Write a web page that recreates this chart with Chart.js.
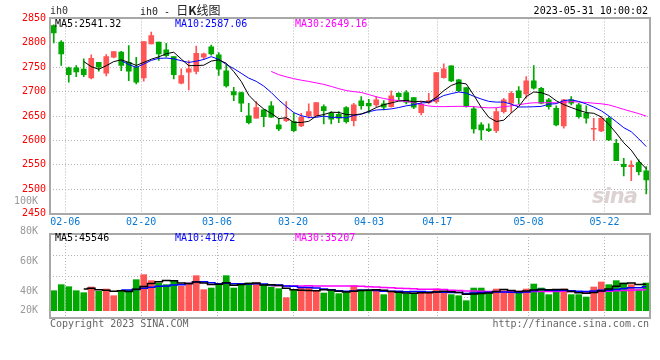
<!DOCTYPE html>
<html lang="zh">
<head>
<meta charset="UTF-8">
<title>ih0 - 日K线图</title>
<script src="https://cdn.jsdelivr.net/npm/chart.js@4.4.1/dist/chart.umd.min.js"></script>
<style>
  html, body { margin: 0; padding: 0; background: #fff; }
  #wrap { position: relative; width: 660px; height: 360px; overflow: hidden;
          font-family: "DejaVu Sans Mono", "Liberation Mono", monospace; font-size: 10px; }
  canvas { position: absolute; left: 0; }
  #main { top: 0; }
  #vol { top: 190px; }
  .txt { position: absolute; white-space: pre; line-height: 12px; }
  .frame { position: absolute; border: 2px solid #a8a8a8; box-sizing: border-box; pointer-events: none; }
  .cjk { font-family: "Noto Sans CJK SC", sans-serif; font-size: 12px; }
  #logo { position: absolute; left: 592px; top: 184px; font: italic bold 21px "DejaVu Sans", sans-serif;
          color: #ddd2d2; letter-spacing: -1px; }
</style>
</head>
<body>
<div id="wrap">
  <canvas id="main" width="660" height="230"></canvas>
  <div id="logo">sina</div>
  <canvas id="vol" width="660" height="170"></canvas>

  <div class="frame" style="left:49px; top:17px; width:602px; height:198px;"></div>
  <div class="frame" style="left:49px; top:233px; width:602px; height:86px;"></div>

  <div class="txt" style="left:50px; top:5px; color:#333;">ih0</div>
  <div class="txt" style="left:140px; top:4px; color:#222;">ih0 - <span class="cjk">日<b>K</b>线图</span></div>
  <div class="txt" style="right:12px; top:5px; color:#000;">2023-05-31 10:00:02</div>

  <div class="txt" style="left:55px; top:18px; color:#000;">MA5:2541.32</div>
  <div class="txt" style="left:175px; top:18px; color:#0000ff;">MA10:2587.06</div>
  <div class="txt" style="left:295px; top:18px; color:#ff00ff;">MA30:2649.16</div>

  <div class="txt" style="left:55px; top:232px; color:#000;">MA5:45546</div>
  <div class="txt" style="left:175px; top:232px; color:#0000ff;">MA10:41072</div>
  <div class="txt" style="left:295px; top:232px; color:#ff00ff;">MA30:35207</div>

  <div class="txt" style="left:50px; top:318px; color:#666;">Copyright 2023 SINA.COM</div>
  <div class="txt" style="right:11px; top:318px; color:#666;">http://finance.sina.com.cn</div>
</div>

<script>
// trading days shown, one candle each
const dates = ['02-03','02-06','02-07','02-08','02-09','02-10','02-13','02-14','02-15','02-16',
  '02-17','02-20','02-21','02-22','02-23','02-24','02-27','02-28','03-01','03-02',
  '03-03','03-06','03-07','03-08','03-09','03-10','03-13','03-14','03-15','03-16',
  '03-17','03-20','03-21','03-22','03-23','03-24','03-27','03-28','03-29','03-30',
  '03-31','04-03','04-04','04-06','04-07','04-10','04-11','04-12','04-13','04-14',
  '04-17','04-18','04-19','04-20','04-21','04-24','04-25','04-26','04-27','04-28',
  '05-04','05-05','05-08','05-09','05-10','05-11','05-12','05-15','05-16','05-17',
  '05-18','05-19','05-22','05-23','05-24','05-25','05-26','05-29','05-30','05-31'];

const open = [2835.6, 2801.4, 2748.7, 2748.7, 2746.0, 2728.2, 2760.3, 2737.8, 2770.6, 2780.9,
  2760.3, 2750.1, 2728.2, 2797.9, 2801.4, 2785.6, 2772.0, 2717.3, 2739.8, 2741.2,
  2770.5, 2792.0, 2775.3, 2742.5, 2700.1, 2698.0, 2650.2, 2645.4, 2662.5, 2670.7,
  2631.7, 2640.6, 2638.5, 2629.7, 2650.2, 2650.2, 2669.3, 2655.6, 2653.6, 2667.3,
  2640.6, 2680.9, 2676.2, 2672.7, 2674.8, 2669.3, 2696.7, 2698.0, 2687.8, 2657.0,
  2677.5, 2679.6, 2728.8, 2752.7, 2724.0, 2708.3, 2664.5, 2631.7, 2623.5, 2620.1,
  2659.1, 2676.2, 2701.5, 2695.3, 2722.0, 2706.9, 2683.0, 2665.9, 2629.7, 2683.0,
  2672.7, 2655.6, 2622.8, 2619.4, 2645.4, 2594.1, 2551.0, 2546.2, 2554.4, 2537.4];

const high = [2837.0, 2804.8, 2750.1, 2753.5, 2767.2, 2775.4, 2760.3, 2776.1, 2782.2, 2782.9,
  2794.5, 2770.6, 2802.7, 2821.9, 2801.4, 2799.3, 2772.0, 2746.7, 2763.8, 2793.2,
  2779.0, 2795.6, 2780.1, 2755.0, 2709.0, 2699.0, 2676.2, 2679.6, 2663.0, 2679.6,
  2645.4, 2679.6, 2655.6, 2655.6, 2674.8, 2677.5, 2672.7, 2659.1, 2659.1, 2669.3,
  2676.2, 2689.8, 2684.4, 2689.8, 2681.6, 2701.5, 2698.0, 2702.1, 2687.8, 2679.6,
  2696.7, 2739.1, 2756.8, 2752.7, 2725.4, 2708.3, 2669.3, 2636.5, 2633.8, 2665.9,
  2686.4, 2700.1, 2710.3, 2730.9, 2753.4, 2709.0, 2686.4, 2670.7, 2684.4, 2689.8,
  2676.2, 2670.7, 2645.4, 2648.8, 2648.8, 2602.3, 2563.3, 2557.9, 2559.9, 2546.2];

const low = [2800.0, 2753.5, 2719.3, 2730.9, 2730.9, 2726.2, 2741.9, 2732.3, 2769.0, 2743.2,
  2722.7, 2715.9, 2721.4, 2797.9, 2763.8, 2770.6, 2726.2, 2715.9, 2703.6, 2736.4,
  2766.0, 2775.0, 2733.0, 2709.0, 2681.6, 2659.1, 2633.8, 2645.4, 2628.3, 2647.0,
  2620.1, 2638.5, 2618.0, 2628.3, 2645.4, 2650.0, 2633.8, 2633.8, 2636.5, 2635.1,
  2629.7, 2663.8, 2655.6, 2669.3, 2662.5, 2668.0, 2683.0, 2674.8, 2665.2, 2652.2,
  2674.8, 2676.2, 2727.4, 2720.6, 2700.1, 2668.0, 2614.6, 2600.9, 2618.0, 2616.0,
  2655.6, 2657.0, 2674.8, 2686.4, 2704.9, 2674.8, 2663.8, 2629.7, 2624.9, 2672.7,
  2645.4, 2635.1, 2599.6, 2618.0, 2599.6, 2558.5, 2527.1, 2517.5, 2529.1, 2490.2];

const close = [2820.5, 2777.4, 2735.0, 2740.5, 2735.0, 2768.5, 2750.1, 2772.0, 2782.2, 2753.5,
  2741.9, 2719.3, 2802.7, 2815.0, 2777.4, 2774.0, 2735.0, 2733.0, 2746.7, 2778.8,
  2777.4, 2777.5, 2745.9, 2711.7, 2693.2, 2676.2, 2636.5, 2667.3, 2648.8, 2647.4,
  2623.5, 2645.4, 2620.1, 2647.4, 2659.1, 2677.5, 2661.1, 2643.3, 2645.4, 2638.5,
  2672.7, 2671.4, 2670.7, 2683.0, 2668.0, 2691.2, 2689.8, 2678.2, 2668.0, 2674.1,
  2681.6, 2739.1, 2746.6, 2722.0, 2702.1, 2669.3, 2623.5, 2621.5, 2620.1, 2659.1,
  2683.0, 2696.7, 2687.8, 2722.0, 2706.9, 2676.2, 2669.3, 2631.7, 2683.0, 2676.2,
  2648.8, 2645.4, 2624.2, 2645.4, 2600.9, 2558.5, 2546.2, 2549.0, 2536.0, 2518.9];

const volume = [34400, 44800, 41300, 34400, 31000, 40800, 33300, 37300, 25800, 33300,
  34400, 53400, 62000, 51700, 47600, 44800, 51700, 41900, 47600, 60300,
  36200, 39000, 43600, 60300, 39000, 43600, 47600, 47600, 43600, 40800,
  37900, 22400, 36200, 39000, 39000, 35000, 30400, 34400, 29300, 31000,
  43100, 36200, 36200, 33300, 27600, 32100, 30400, 28700, 30400, 33300,
  32100, 37300, 33300, 27600, 25800, 17200, 39000, 39000, 32100, 37300,
  34400, 30400, 30400, 37300, 45900, 39000, 27600, 33300, 37300, 27600,
  27600, 23500, 40800, 49400, 44800, 51700, 47600, 44800, 36200, 47600];

const dateTicks = ['02-06', '02-20', '03-06', '03-20', '04-03', '04-17', '05-08', '05-22'];
const volTickLabels = ['100K', '80K', '60K', '40K', '20K'];
const volTickValues = [100000, 80000, 60000, 40000, 20000];

const UP = '#ff5555', DOWN = '#00a800';
const N = dates.length;
const idx = dates.map((d, i) => i);
const candleColor = idx.map(i => close[i] >= open[i] ? UP : DOWN);

function movingAvg(arr, n) {
  const out = [];
  for (let i = n - 1; i < arr.length; i++) {
    let s = 0;
    for (let k = i - n + 1; k <= i; k++) s += arr[k];
    out.push({ x: i, y: s / n });
  }
  return out;
}

// sina spreads its date grid over N-1 steps while the candles sit in N slots
const dateTickPos = dateTicks.map(d => (dates.indexOf(d) + 1) * N / (N - 1) - 0.5);

const mono = { family: 'DejaVu Sans Mono', size: 10 };
const gridColor = '#b4b4b4';
const gridDash = [1, 2];

function xScale(showLabels, height) {
  return {
    type: 'linear', min: -0.5, max: N - 0.5, offset: false,
    afterBuildTicks: s => { s.ticks = dateTickPos.map(v => ({ value: v })); },
    afterFit: s => { s.height = height; },
    ticks: { display: showLabels, autoSkip: false, maxRotation: 0, padding: 3,
             color: '#0a78d2', font: mono, callback: (v, i) => dateTicks[i] },
    grid: { color: gridColor, drawTicks: false, offset: false },
    border: { display: false, dash: gridDash }
  };
}

function maLine(data, color, width, stepped) {
  return { type: 'line', data: data, borderColor: color, borderWidth: width,
           pointRadius: 0, stepped: stepped || false, yAxisID: stepped ? 'yv' : 'y' };
}

const base = {
  responsive: false, animation: false, devicePixelRatio: 1,
  plugins: { legend: { display: false }, tooltip: { enabled: false } }
};

// price panel: MA lines on top, then bodies, then wicks
new Chart(document.getElementById('main'), {
  type: 'bar',
  data: { datasets: [
    maLine(movingAvg(close, 5), '#000000', 1),
    maLine(movingAvg(close, 10), '#0000ff', 1),
    maLine(movingAvg(close, 30), '#ff00ff', 1),
    { data: idx.map(i => ({ x: i, y: [open[i], close[i]] })), backgroundColor: candleColor,
      barThickness: 5, minBarLength: 1, grouped: false },
    { data: idx.map(i => ({ x: i, y: [low[i], high[i]] })), backgroundColor: candleColor,
      barThickness: 1, grouped: false }
  ]},
  options: Object.assign({}, base, {
    layout: { padding: { top: 18.5, right: 10, left: 0, bottom: 0 } },
    scales: {
      x: xScale(true, 16.5),
      y: { min: 2450, max: 2850,
           afterFit: s => { s.width = 50; },
           ticks: { stepSize: 50, padding: 4, color: '#ff0000', font: mono,
                    callback: v => String(v) },
           grid: { color: gridColor, drawTicks: false },
           border: { display: false, dash: gridDash } }
    }
  })
});

// volume panel
new Chart(document.getElementById('vol'), {
  type: 'bar',
  data: { datasets: [
    maLine(movingAvg(volume, 5), '#000000', 1.5, 'middle'),
    maLine(movingAvg(volume, 10), '#0000ff', 1.5, 'middle'),
    maLine(movingAvg(volume, 30), '#ff00ff', 1.5, 'middle'),
    { data: idx.map(i => ({ x: i, y: volume[i] })), backgroundColor: candleColor,
      barThickness: 6, grouped: false, yAxisID: 'yv' }
  ]},
  options: Object.assign({}, base, {
    layout: { padding: { top: 44, right: 10, left: 0, bottom: 0 } },
    scales: {
      x: xScale(false, 42),
      yv: { position: 'left', display: false, min: -12600, max: 132000 },
      // sina's volume labels run on their own scale; the lowest one is held inside the panel
      yl: { position: 'left', min: 22000, max: 78000,
            afterBuildTicks: s => { s.ticks = volTickValues.map(v => ({ value: Math.max(v, 27000) })); },
            afterFit: s => { s.width = 50; },
            ticks: { autoSkip: false, padding: 4, color: '#999999', font: mono,
                     callback: (v, i) => volTickLabels[i] },
            grid: { display: false }, border: { display: false } },
      yg: { position: 'right', min: 0, max: 4,
            afterFit: s => { s.width = 0; },
            ticks: { display: false, stepSize: 1 },
            grid: { color: gridColor, drawTicks: false },
            border: { display: false, dash: gridDash } }
    }
  })
});
</script>
</body>
</html>
